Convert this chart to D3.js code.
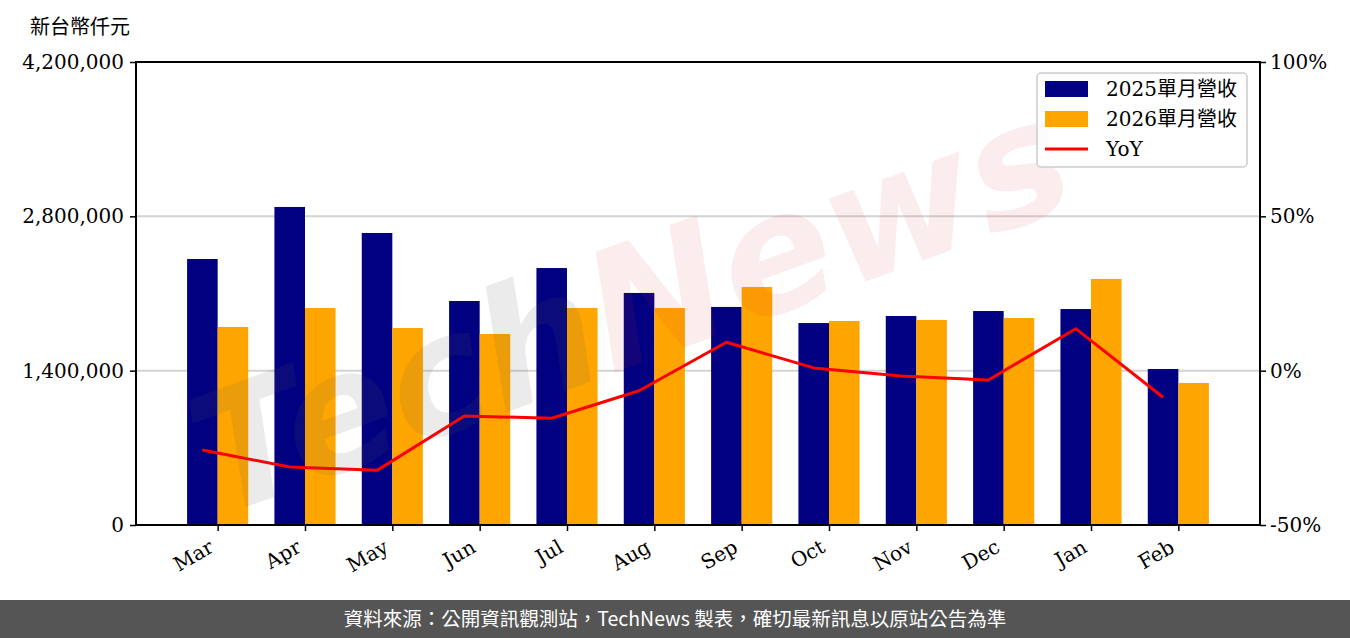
<!DOCTYPE html>
<html><head><meta charset="utf-8">
<script src="https://cdn.jsdelivr.net/npm/d3@7"></script>
<style>
html,body{margin:0;padding:0;background:#fff;}
svg{display:block;}
</style></head>
<body>
<svg id="chart" width="1350" height="638"></svg>
<script>
const months = ["Mar","Apr","May","Jun","Jul","Aug","Sep","Oct","Nov","Dec","Jan","Feb"];
const rev2025 = [2413000,2885000,2649000,2032000,2331000,2105000,1978000,1832000,1896000,1941000,1959000,1415000];
const rev2026 = [1796000,1968000,1787000,1733000,1968000,1968000,2159000,1851000,1860000,1878000,2232000,1288000];
const yoy = [-25.7,-31.2,-32.3,-14.7,-15.4,-6.5,9.2,0.9,-1.7,-3.0,13.6,-8.6];
const leftTicks = [0,1400000,2800000,4200000];
const rightTicks = [-50,0,50,100];
const seriesNames = ["2025單月營收","2026單月營收","YoY"];

const W=1350,H=638;
const L=136,R=1260,T=62,B=525;
const serif = "'DejaVu Serif','Noto Sans CJK TC',serif";
const svg = d3.select("#chart");

const x = d3.scaleLinear().domain([-0.935, 11.935]).range([L,R]);
const y = d3.scaleLinear().domain([0,4200000]).range([B,T]);
const y2 = d3.scaleLinear().domain([-50,100]).range([B,T]);
const bw = 0.35;

// grid
svg.append("g").selectAll("line").data(leftTicks.filter(d=>d>0)).join("line")
  .attr("x1",L).attr("x2",R).attr("y1",d=>y(d)).attr("y2",d=>y(d))
  .attr("stroke","#d3d3d3").attr("stroke-width",2);

// bars
svg.append("g").selectAll("rect").data(rev2025).join("rect")
  .attr("x",(d,i)=>x(i-bw)).attr("width",x(bw)-x(0))
  .attr("y",d=>y(d)).attr("height",d=>B-y(d)).attr("fill","#000080");
svg.append("g").selectAll("rect").data(rev2026).join("rect")
  .attr("x",(d,i)=>x(i)).attr("width",x(bw)-x(0))
  .attr("y",d=>y(d)).attr("height",d=>B-y(d)).attr("fill","#FFA500");

// YoY line
const line = d3.line().x((d,i)=>x(i-bw/2)).y(d=>y2(d));
svg.append("path").datum(yoy).attr("d",line).attr("fill","none")
  .attr("stroke","#FF0000").attr("stroke-width",3).attr("stroke-linejoin","round");

// watermark
const wm = svg.append("text").attr("transform","translate(650,360) rotate(-20)")
  .attr("text-anchor","middle").attr("font-family","'DejaVu Sans',sans-serif")
  .attr("font-weight","bold").attr("font-style","italic").attr("font-size",165);
wm.append("tspan").text("Tech").attr("fill","rgba(90,90,90,0.12)");
wm.append("tspan").text("News").attr("fill","rgba(210,40,60,0.09)");

// frame
svg.append("rect").attr("x",L).attr("y",T).attr("width",R-L).attr("height",B-T)
  .attr("fill","none").attr("stroke","#000").attr("stroke-width",2);

// axes
const axL = svg.append("g").attr("transform",`translate(${L},0)`)
  .call(d3.axisLeft(y).tickValues(leftTicks).tickFormat(d3.format(",")).tickSize(6).tickSizeOuter(0));
const axR = svg.append("g").attr("transform",`translate(${R},0)`)
  .call(d3.axisRight(y2).tickValues(rightTicks).tickFormat(d=>d+"%").tickSize(6).tickSizeOuter(0));
const axB = svg.append("g").attr("transform",`translate(0,${B})`)
  .call(d3.axisBottom(x).tickValues(d3.range(months.length)).tickFormat(i=>months[i]).tickSize(6).tickSizeOuter(0));
[axL,axR,axB].forEach(a=>{
  a.select(".domain").remove();
  a.selectAll(".tick line").attr("stroke","#000").attr("stroke-width",1.5);
  a.selectAll("text").attr("font-family",serif).attr("font-size",20).attr("fill","#000");
});
axL.selectAll("text").attr("x",-12);
axR.selectAll("text").attr("x",10);
axB.selectAll("text").attr("text-anchor","end").attr("dy",0).attr("y",0)
  .attr("transform","translate(-3,26) rotate(-30)");

// y label
svg.append("text").attr("x",30).attr("y",34).attr("font-family",serif)
  .attr("font-size",20).text("新台幣仟元");

// legend
const lg = svg.append("g");
lg.append("rect").attr("x",1037).attr("y",73).attr("width",210).attr("height",94)
  .attr("rx",4).attr("fill","rgba(255,255,255,0.8)").attr("stroke","#cccccc").attr("stroke-width",1.5);
const colors=["#000080","#FFA500","#FF0000"];
seriesNames.forEach((n,i)=>{
  const cy = 89 + i*30;
  if(i<2) lg.append("rect").attr("x",1045).attr("y",cy-8).attr("width",43).attr("height",16).attr("fill",colors[i]);
  else lg.append("line").attr("x1",1045).attr("x2",1088).attr("y1",cy).attr("y2",cy).attr("stroke",colors[i]).attr("stroke-width",3);
  lg.append("text").attr("x",1106).attr("y",cy+7).attr("font-family",serif).attr("font-size",20).text(n);
});

// footer
svg.append("rect").attr("x",0).attr("y",600).attr("width",W).attr("height",38).attr("fill","#555555");
svg.append("text").attr("x",675).attr("y",626).attr("text-anchor","middle")
  .attr("font-family","'Noto Sans CJK TC','Noto Sans',sans-serif").attr("font-size",19.5).attr("fill","#fff")
  .text("資料來源：公開資訊觀測站，TechNews 製表，確切最新訊息以原站公告為準");
</script>
</body></html>
